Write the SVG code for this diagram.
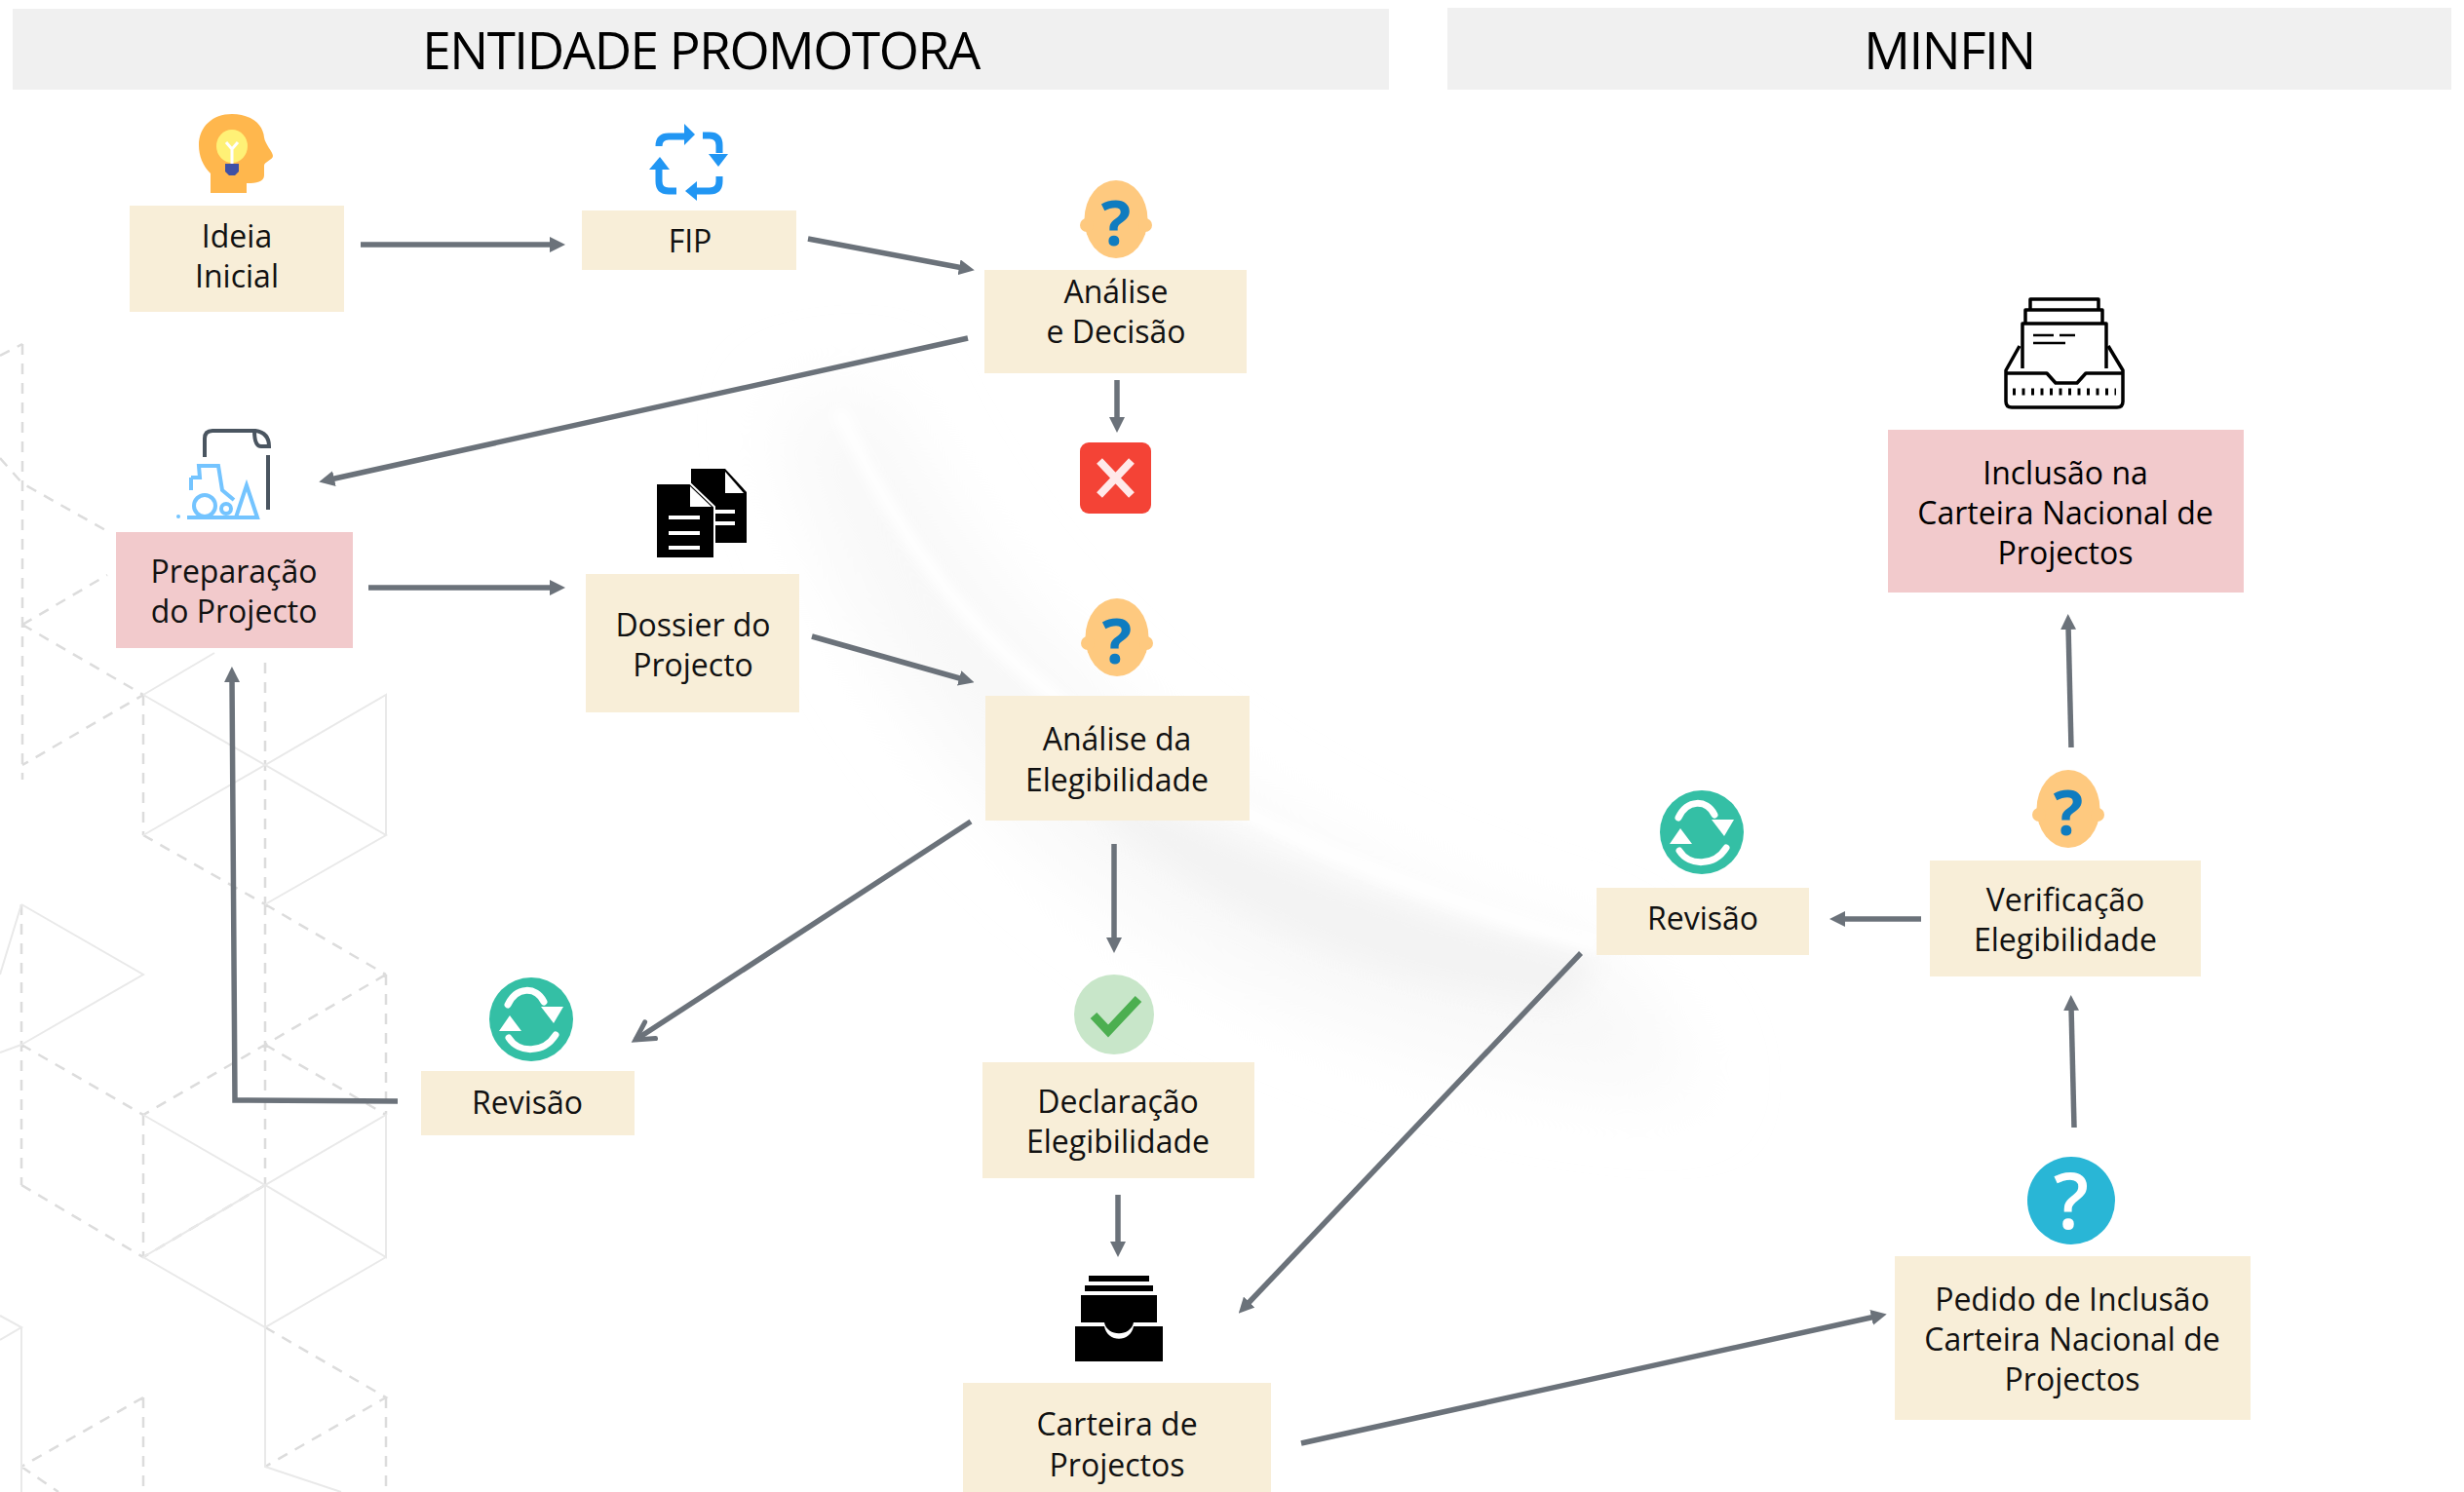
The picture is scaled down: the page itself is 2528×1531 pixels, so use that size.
<svg xmlns="http://www.w3.org/2000/svg" xmlns:xlink="http://www.w3.org/1999/xlink" width="2528" height="1531" viewBox="0 0 2528 1531">
<style>
text{font-family:"Open Sans","Noto Sans","Liberation Sans",sans-serif;fill:#111;text-anchor:middle}
.t{font-size:32px}
.h{font-size:53px;letter-spacing:-1.5px;fill:#000}
.q{font-family:"Open Sans","Liberation Sans",sans-serif;font-weight:700;font-size:64px}
.box{fill:#f8eed8}
.pink{fill:#f2cacc}
.hdr{fill:#f0f0f0}
.c{fill:none;stroke:#6b727a;stroke-width:5.500}
.s{fill:none;stroke:#e9e9e9;stroke-width:2}
.d{fill:none;stroke:#dcdcdc;stroke-width:2.500;stroke-dasharray:11 9}
</style>
<defs>
<marker id="a" markerUnits="userSpaceOnUse" markerWidth="16" markerHeight="16" refX="4" refY="8" orient="auto"><path d="M0,0L16,8L0,16z" fill="#6b727a"/></marker>
<marker id="o" markerUnits="userSpaceOnUse" markerWidth="30" markerHeight="30" refX="24" refY="15" orient="auto"><path d="M6,5L24,15L6,25" fill="none" stroke="#6b727a" stroke-width="5" stroke-linecap="round"/></marker>
<filter id="b1" x="-30%" y="-30%" width="160%" height="160%"><feGaussianBlur stdDeviation="40"/></filter>
<filter id="b2" x="-30%" y="-30%" width="160%" height="160%"><feGaussianBlur stdDeviation="14"/></filter>
<filter id="b3" x="-30%" y="-30%" width="160%" height="160%"><feGaussianBlur stdDeviation="6"/></filter>
<g id="head"><ellipse cx="37" cy="38" rx="32.500" ry="40" fill="#fec97f"/><circle cx="7" cy="44" r="7" fill="#fec97f"/><circle cx="67" cy="44" r="7" fill="#fec97f"/></g>
<g id="rev"><circle cx="43" cy="43" r="43" fill="#34bfa5"/><path d="M19,28C28,9 48,9 56,25" fill="none" stroke="#fff" stroke-width="7" stroke-linecap="round"/><path d="M53,30H76L66,47z" fill="#fff"/><path d="M20,62C30,78 56,78 68,59" fill="none" stroke="#fff" stroke-width="7" stroke-linecap="round"/><path d="M10,55H33L21,39z" fill="#fff"/></g>
</defs>
<rect width="2528" height="1531" fill="#fff"/>
<g id="background">
<path d="M800,420C880,720 1120,1080 1750,1120L1650,980C1300,880 1050,720 900,400z" fill="#f8f8f8" filter="url(#b1)"/>
<path d="M1130,835C1250,935 1400,1010 1610,1030L1640,985C1450,940 1300,890 1130,800z" fill="#f3f3f3" filter="url(#b2)"/>
<path d="M860,420C930,570 1020,690 1180,780C1300,850 1450,920 1640,970" fill="none" stroke="#fff" stroke-width="14" filter="url(#b3)"/>
<g id="lattice">
<path class="d" d="M23,353V800M0,365L23,353M0,470L23,496L110,545M23,641L110,590M23,641L147,713L23,785M147,713V857M272,680V928M272,928L396,1000M272,928V1216M272,1072L396,1144M396,1000V1144M22,928V1216M22,1072L147,1144L272,1072L396,1000M147,1144V1290M22,1216L147,1290L272,1216M147,1434L22,1505M147,1434V1531M272,1362L396,1434L272,1505M396,1434V1531M147,857L272,928M22,1505L60,1531"/>
<path class="s" d="M22,928L147,1000L22,1072M147,713L272,785L396,713V857M147,857L272,785L396,857L272,928M147,713L220,670M147,1144L272,1216L396,1144V1290L272,1216L147,1290L272,1362L396,1290M272,1216V1505L350,1531M22,1362V1531M0,1350L22,1362L0,1375M0,1000L22,928M0,1080L22,1072"/>
</g>
</g>
<g id="headers">
<g id="hdr-entidade"><rect class="hdr" x="13" y="9" width="1412" height="83"/><text class="h" x="719" y="71">ENTIDADE PROMOTORA</text></g>
<g id="hdr-minfin"><rect class="hdr" x="1485" y="8" width="1030" height="84"/><text class="h" x="2000" y="71">MINFIN</text></g>
</g>
<g id="connectors">
<path class="c" marker-end="url(#a)" d="M370,251H568"/>
<path class="c" marker-end="url(#a)" d="M829,245L988,275"/>
<path class="c" marker-end="url(#a)" d="M993,347L339,492"/>
<path class="c" marker-end="url(#a)" d="M1146,390V432"/>
<path class="c" marker-end="url(#a)" d="M378,603H568"/>
<path class="c" marker-end="url(#a)" d="M833,653L988,697"/>
<path class="c" marker-end="url(#o)" d="M996,843L652,1067"/>
<path class="c" marker-end="url(#a)" d="M408,1130L241,1129L238,696"/>
<path class="c" marker-end="url(#a)" d="M1143,866V966"/>
<path class="c" marker-end="url(#a)" d="M1147,1226V1278"/>
<path class="c" marker-end="url(#a)" d="M1622,978L1279,1339"/>
<path class="c" marker-end="url(#a)" d="M1335,1481L1924,1351"/>
<path class="c" marker-end="url(#a)" d="M2128,1157L2125,1033"/>
<path class="c" marker-end="url(#a)" d="M1971,943H1889"/>
<path class="c" marker-end="url(#a)" d="M2125,767L2122,642"/>
</g>
<g id="ideia">
<path d="M238,117C258,117 270,128 271,141C272,148 280,156 280,160C280,164 271,166 271,170V180C271,187 262,188 253,188V198H216V178C208,170 204,160 204,149C204,130 218,117 238,117z" fill="#ffb74d"/>
<ellipse cx="238" cy="150" rx="16" ry="17" fill="#fff176"/><path d="M238,172V151M232,146L238,153L244,146" stroke="#fff" stroke-width="3" fill="none"/><path d="M231,168H245V176L241,180H235L231,176z" fill="#3f51a5"/>
<rect class="box" x="133" y="211" width="220" height="109"/><text class="t" x="243" y="254">Ideia</text><text class="t" x="243" y="295">Inicial</text>
</g>
<g id="fip">
<g fill="none" stroke="#2196f3" stroke-width="7"><path d="M676,150V150Q676,140 686,140H703"/><path d="M721,139H728Q738,139 738,149V157"/><path d="M738,181V186Q738,196 728,196H715"/><path d="M694,196H686Q676,196 676,186V173"/></g>
<g fill="#2196f3"><path d="M702,127L713,138L702,149z"/><path d="M727,158H747L737,171z"/><path d="M715,186V206L703,196z"/><path d="M666,174H687L677,161z"/></g>
<rect class="box" x="597" y="216" width="220" height="61"/><text class="t" x="708" y="259">FIP</text>
</g>
<g id="analise">
<use xlink:href="#head" href="#head" x="1108" y="187"/><text class="q" x="1145" y="252" style="fill:#0f7cc0">?</text>
<rect class="box" x="1010" y="277" width="269" height="106"/><text class="t" x="1145" y="311">Análise</text><text class="t" x="1145" y="352">e Decisão</text>
</g>
<g id="rejeitado">
<rect x="1108" y="454" width="73" height="73" rx="9" fill="#f44336"/><path d="M1128,473L1161,508M1161,473L1128,508" stroke="#ffe9e9" stroke-width="8"/>
</g>
<g id="preparacao">
<g fill="none" stroke="#4a5560" stroke-width="4"><path d="M210,469V450Q210,442 218,442H262Q276,444 276,458H268Q261,458 261,442"/><path d="M275,467V523"/></g>
<g fill="none" stroke="#74c4ff" stroke-width="4"><circle cx="210" cy="519" r="11"/><circle cx="232" cy="522" r="5"/><path d="M253,498L242,531H264z"/><path d="M192,531H264M196,490H205L204,478H224L228,503L240,513M196,490V503"/></g><circle cx="183" cy="530" r="2" fill="#74c4ff"/>
<rect class="pink" x="119" y="546" width="243" height="119"/><text class="t" x="240" y="598">Preparação</text><text class="t" x="240" y="639">do Projecto</text>
</g>
<g id="dossier">
<path d="M709,481H744L766,505V557H709z" fill="#000"/><path d="M744,484V506H763z" fill="#fff"/>
<path d="M733,525H754M733,537H754" stroke="#fff" stroke-width="4"/>
<path d="M673,496H708L733,520V573H673z" fill="#000" stroke="#fff" stroke-width="2"/><path d="M708,499V520H730z" fill="#fff"/>
<path d="M686,531H718M686,547H718M686,562H718" stroke="#fff" stroke-width="4"/>
<rect class="box" x="601" y="589" width="219" height="142"/><text class="t" x="711" y="653">Dossier do</text><text class="t" x="711" y="694">Projecto</text>
</g>
<g id="analise-elegibilidade">
<use xlink:href="#head" href="#head" x="1109" y="616"/><text class="q" x="1146" y="681" style="fill:#0f7cc0">?</text>
<rect class="box" x="1011" y="714" width="271" height="128"/><text class="t" x="1146" y="770">Análise da</text><text class="t" x="1146" y="812">Elegibilidade</text>
</g>
<g id="revisao-ep">
<use xlink:href="#rev" href="#rev" x="502" y="1003"/>
<rect class="box" x="432" y="1099" width="219" height="66"/><text class="t" x="541" y="1143">Revisão</text>
</g>
<g id="declaracao">
<circle cx="1143" cy="1041" r="41" fill="#c8e6c9"/><path d="M1122,1042L1137,1058L1168,1025" fill="none" stroke="#4caf50" stroke-width="9"/>
<rect class="box" x="1008" y="1090" width="279" height="119"/><text class="t" x="1147" y="1142">Declaração</text><text class="t" x="1147" y="1183">Elegibilidade</text>
</g>
<g id="carteira">
<rect x="1117" y="1309" width="62" height="6"/><rect x="1113" y="1319" width="70" height="6"/>
<path d="M1109,1329H1187V1357H1163C1160,1372 1136,1372 1133,1357H1109z"/>
<path d="M1103,1361H1133C1136,1378 1160,1378 1163,1361H1193V1397H1103z"/>
<rect class="box" x="988" y="1419" width="316" height="112"/><text class="t" x="1146" y="1473">Carteira de</text><text class="t" x="1146" y="1515">Projectos</text>
</g>
<g id="pedido">
<ellipse cx="2125" cy="1232" rx="45" ry="45" fill="#29b6d6"/><text class="q" x="2125" y="1261" style="fill:#fff;font-weight:600;font-size:80px">?</text>
<rect class="box" x="1944" y="1289" width="365" height="168"/><text class="t" x="2126" y="1345">Pedido de Inclusão</text><text class="t" x="2126" y="1386">Carteira Nacional de</text><text class="t" x="2126" y="1427">Projectos</text>
</g>
<g id="verificacao">
<use xlink:href="#head" href="#head" x="2085" y="792"/><text class="q" x="2122" y="857" style="fill:#0f7cc0">?</text>
<rect class="box" x="1980" y="883" width="278" height="119"/><text class="t" x="2119" y="935">Verificação</text><text class="t" x="2119" y="976">Elegibilidade</text>
</g>
<g id="revisao-minfin">
<use xlink:href="#rev" href="#rev" x="1703" y="811"/>
<rect class="box" x="1638" y="911" width="218" height="69"/><text class="t" x="1747" y="954">Revisão</text>
</g>
<g id="inclusao">
<g fill="none" stroke="#000" stroke-width="3.500" stroke-linejoin="round"><path d="M2083,318V307H2153V318"/><path d="M2078,332V318H2157V332"/><path d="M2075,378V332H2161V378"/><path d="M2086,344H2107M2113,344H2129M2086,352H2119" stroke-width="2.500"/><path d="M2072,355L2058,380V412Q2058,418 2064,418H2172Q2178,418 2178,412V380L2163,355"/><path d="M2058,383H2100L2109,393H2131L2140,383H2178"/><path d="M2065,402H2171" stroke-width="7" stroke-dasharray="3 6.500"/></g>
<rect class="pink" x="1937" y="441" width="365" height="167"/><text class="t" x="2119" y="497" style="fill:#000">Inclusão na</text><text class="t" x="2119" y="538" style="fill:#000">Carteira Nacional de</text><text class="t" x="2119" y="579" style="fill:#000">Projectos</text>
</g>
</svg>
